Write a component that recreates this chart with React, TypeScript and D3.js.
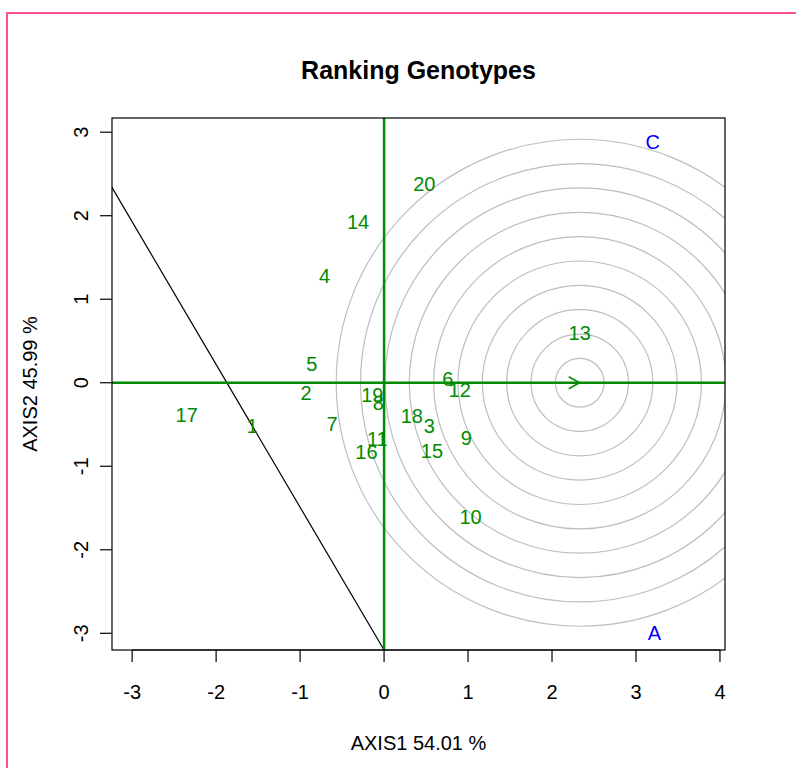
import React from 'react';
import * as d3 from 'd3';

const genotypes = ['20', '14', '4', '13', '5', '6', '12', '2', '19', '8', '17', '18', '1', '7', '3', '11', '9', '16', '15', '10'];
const axis1 = [0.48, -0.31, -0.71, 2.33, -0.86, 0.76, 0.9, -0.93, -0.14, -0.07, -2.35, 0.33, -1.57, -0.62, 0.54, -0.08, 0.98, -0.21, 0.57, 1.03];
const axis2 = [2.38, 1.93, 1.28, 0.6, 0.23, 0.05, -0.09, -0.12, -0.15, -0.24, -0.38, -0.4, -0.51, -0.49, -0.51, -0.67, -0.66, -0.83, -0.82, -1.6];

const environments = ['C', 'A'];
const envX = [3.2, 3.22];
const envY = [2.89, -2.99];

const ideal = [2.33, 0];
const ringRadii = [0.29, 0.58, 0.87, 1.16, 1.45, 1.74, 2.03, 2.32, 2.61, 2.9];
const blackLine = [[-3.3, 2.44], [0, -3.2]];
const xTicks = [-3, -2, -1, 0, 1, 2, 3, 4];
const yTicks = [-3, -2, -1, 0, 1, 2, 3];

const W = 796;
const H = 768;
const left = 112, right = 725, top = 118, bottom = 650;
const green = '#008B00';
const font = 'Liberation Sans, Arial, sans-serif';

export default function App() {
  const x = d3.scaleLinear().domain([-3.24, 4.06]).range([left, right]);
  const y = d3.scaleLinear().domain([-3.2, 3.17]).range([bottom, top]);
  const line = d3.line<number[]>().x(d => x(d[0])).y(d => y(d[1]));
  const px = x(ideal[0]);
  const py = y(ideal[1]);
  const ux = x(1) - x(0);

  return (
    <svg width={W} height={H} style={{ position: 'absolute', left: 0, top: 0, background: '#fff' }} fontFamily={font}>
      <defs>
        <clipPath id="plot">
          <rect x={left} y={top} width={right - left} height={bottom - top} />
        </clipPath>
      </defs>
      <rect x={7} y={13} width={W} height={H} fill="none" stroke="#ff4f96" strokeWidth={2} />

      <text x={(left + right) / 2} y={79} textAnchor="middle" fontSize={25} fontWeight="bold">Ranking Genotypes</text>

      <g clipPath="url(#plot)">
        {ringRadii.map(r => (
          <circle key={r} cx={px} cy={py} r={r * ux} fill="none" stroke="#bebebe" strokeWidth={1.2} />
        ))}
        <path d={line(blackLine) || ''} stroke="#000" strokeWidth={1.2} fill="none" />
        <line x1={left} x2={right} y1={y(0)} y2={y(0)} stroke={green} strokeWidth={2.5} />
        <line x1={x(0)} x2={x(0)} y1={top} y2={bottom} stroke={green} strokeWidth={2.5} />
        <path d={`M${px - 11},${py - 6}L${px},${py}L${px - 11},${py + 6}`} stroke={green} strokeWidth={1.5} fill="none" />
      </g>

      {genotypes.map((g, i) => (
        <text key={g} x={x(axis1[i])} y={y(axis2[i])} dy="0.36em" textAnchor="middle" fontSize={20} fill={green}>{g}</text>
      ))}
      {environments.map((e, i) => (
        <text key={e} x={x(envX[i])} y={y(envY[i])} dy="0.36em" textAnchor="middle" fontSize={20} fill="#0000ff">{e}</text>
      ))}

      <rect x={left} y={top} width={right - left} height={bottom - top} fill="none" stroke="#000" strokeWidth={1.2} />

      <g>
        <line x1={x(-3)} x2={x(4)} y1={bottom} y2={bottom} stroke="#000" />
        {xTicks.map(t => (
          <g key={t} transform={`translate(${x(t)},${bottom})`}>
            <line y2={12} stroke="#000" strokeWidth={1.2} />
            <text y={49} textAnchor="middle" fontSize={20}>{t}</text>
          </g>
        ))}
      </g>
      <g>
        {yTicks.map(t => (
          <g key={t} transform={`translate(${left},${y(t)})`}>
            <line x2={-12} stroke="#000" strokeWidth={1.2} />
            <text transform="translate(-24,0) rotate(-90)" textAnchor="middle" fontSize={20}>{t}</text>
          </g>
        ))}
      </g>

      <text x={(left + right) / 2} y={750} textAnchor="middle" fontSize={20}>AXIS1 54.01 %</text>
      <text transform={`translate(37,${(top + bottom) / 2}) rotate(-90)`} textAnchor="middle" fontSize={20}>AXIS2 45.99 %</text>
    </svg>
  );
}
